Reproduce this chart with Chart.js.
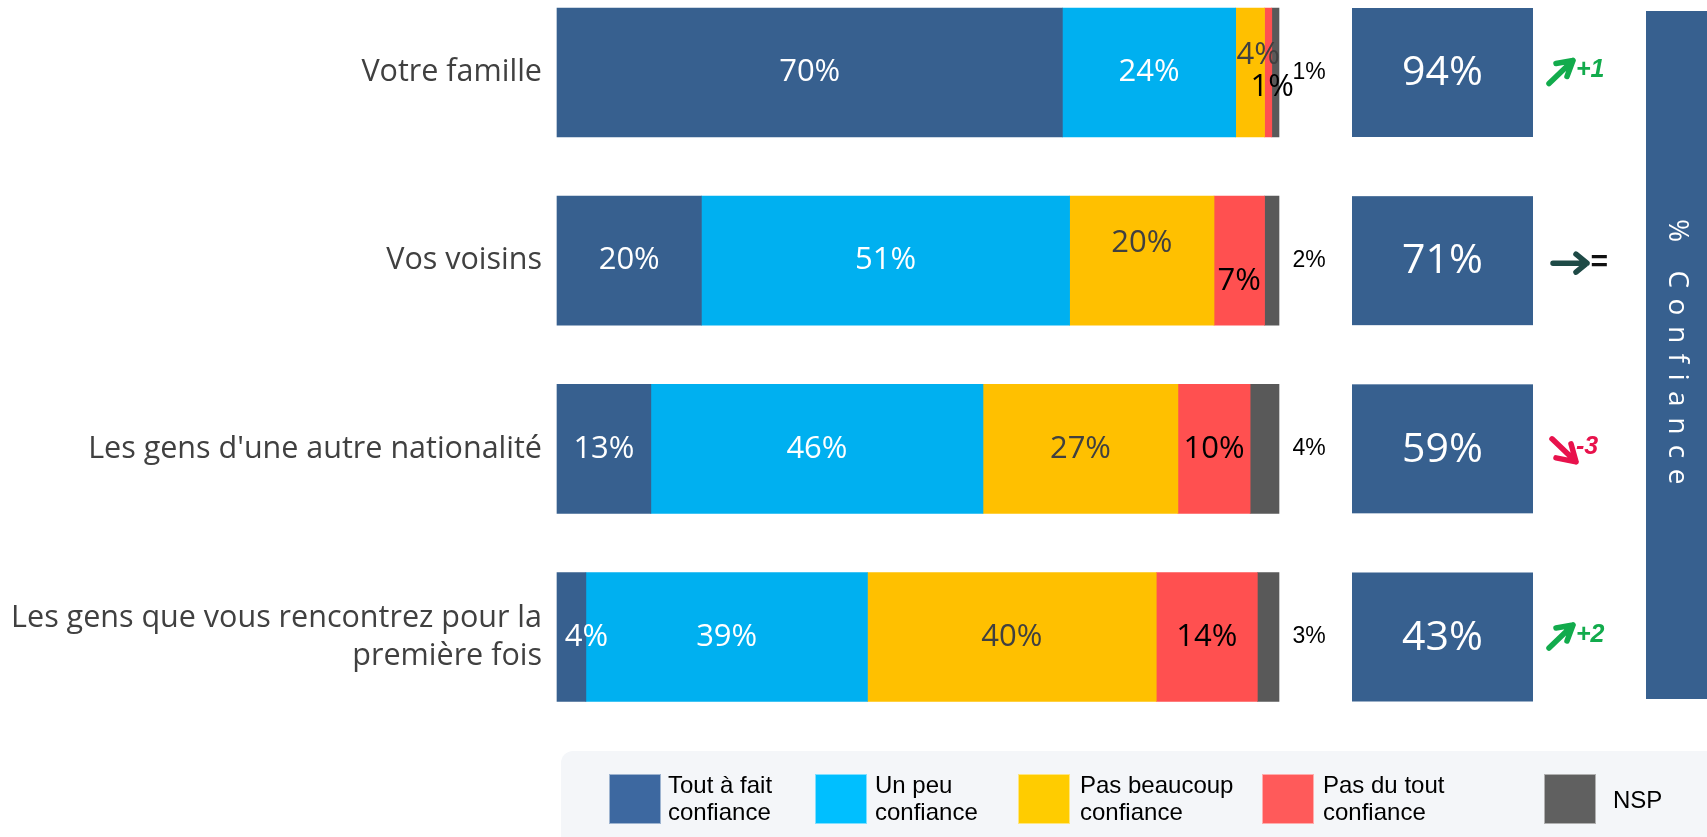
<!DOCTYPE html>
<html>
<head>
<meta charset="utf-8">
<script src="https://cdn.jsdelivr.net/npm/chart.js@4.4.1/dist/chart.umd.min.js"></script>
<style>
  html, body { margin: 0; padding: 0; background: #fff; }
  #wrap { position: relative; width: 1707px; height: 837px; }
</style>
</head>
<body>
<div id="wrap"><canvas id="confianceChart" width="1707" height="837"></canvas></div>
<script>
// Données
const categories = [
  "Votre famille",
  "Vos voisins",
  "Les gens d'une autre nationalité",
  ["Les gens que vous rencontrez pour la", "première fois"],
];
const seriesNames = [
  "Tout à fait confiance",
  "Un peu confiance",
  "Pas beaucoup confiance",
  "Pas du tout confiance",
  "NSP",
];
const toutAFait = [70, 20, 13, 4];
const unPeu = [24, 51, 46, 39];
const pasBeaucoup = [4, 20, 27, 40];
const pasDuTout = [1, 7, 10, 14];
const nsp = [1, 2, 4, 3];
const totalConfiance = [94, 71, 59, 43];
const evolution = ["+1", "=", "-3", "+2"];

// Styles
const barColors = ["#37608f", "#00b0f0", "#ffc000", "#ff5050", "#595959"];
const legendColors = ["#3d68a0", "#00bfff", "#ffcc00", "#ff5a5a", "#606060"];
const labelColors = ["#ffffff", "#ffffff", "#404040", "#000000", "#000000"];
// petits décalages pour les étiquettes des segments étroits  [dx, dy]
const labelNudge = {
  "2,0": [8, -17],
  "3,0": [4, 15],
  "2,1": [0, -17],
  "3,1": [0, 21],
  "0,3": [15, 0],
};
const FONT = "'Open Sans', 'Noto Sans', sans-serif";

function txt(ctx, s, x, y, font, color, align) {
  ctx.font = font;
  ctx.fillStyle = color;
  ctx.textAlign = align || "center";
  ctx.textBaseline = "middle";
  ctx.fillText(s, x, y);
}

function drawArrow(ctx, sign, x, cy, color) {
  ctx.save();
  ctx.strokeStyle = color;
  ctx.lineWidth = 5.5;
  ctx.lineCap = "round";
  ctx.lineJoin = "round";
  ctx.beginPath();
  if (sign > 0) {
    ctx.moveTo(x, cy + 11);
    ctx.lineTo(x + 24, cy - 12);
    ctx.moveTo(x + 7, cy - 9);
    ctx.lineTo(x + 24, cy - 12);
    ctx.lineTo(x + 18, cy + 4);
  } else if (sign < 0) {
    ctx.moveTo(x + 3, cy - 10);
    ctx.lineTo(x + 27, cy + 13);
    ctx.moveTo(x + 22, cy - 5);
    ctx.lineTo(x + 27, cy + 13);
    ctx.lineTo(x + 7, cy + 9);
  } else {
    ctx.moveTo(x + 4, cy + 2.5);
    ctx.lineTo(x + 38, cy + 2.5);
    ctx.moveTo(x + 27, cy - 6.5);
    ctx.lineTo(x + 38, cy + 2.5);
    ctx.lineTo(x + 27, cy + 11.5);
  }
  ctx.stroke();
  ctx.restore();
}

const overlay = {
  id: "overlay",
  afterDatasetsDraw(chart) {
    const ctx = chart.ctx;
    const area = chart.chartArea;

    // étiquettes des segments
    chart.data.datasets.forEach((ds, d) => {
      const meta = chart.getDatasetMeta(d);
      meta.data.forEach((el, i) => {
        const p = el.getProps(["x", "base", "y"], true);
        const label = ds.data[i] + "%";
        if (d === 4) {
          txt(ctx, label, area.right + 30, p.y, "23px 'Liberation Sans', Arial, sans-serif", labelColors[d]);
          return;
        }
        const n = labelNudge[d + "," + i] || [0, 0];
        txt(ctx, label, (p.x + p.base) / 2 + n[0], p.y + n[1], "31px " + FONT, labelColors[d]);
      });
    });

    // cases "% confiance" et évolutions
    const meta0 = chart.getDatasetMeta(0);
    meta0.data.forEach((el, i) => {
      const p = el.getProps(["y", "height"], true);
      ctx.fillStyle = "#37608f";
      ctx.fillRect(1352, p.y - p.height / 2, 181, p.height);
      txt(ctx, totalConfiance[i] + "%", 1442.5, p.y + 1, "41px " + FONT, "#ffffff");

      const ev = evolution[i];
      const sign = ev.startsWith("+") ? 1 : ev.startsWith("-") ? -1 : 0;
      const col = sign > 0 ? "#12ab4c" : sign < 0 ? "#e8124c" : "#1e4a46";
      drawArrow(ctx, sign, 1549, p.y, col);
      const tx = sign === 0 ? 1590 : 1576;
      const ty = sign === 0 ? p.y + 2 : p.y - 2;
      const fs = sign === 0 ? 30 : 25;
      txt(ctx, ev, tx, ty, "italic bold " + fs + "px 'Liberation Sans', Arial, sans-serif", sign === 0 ? "#111" : col, "left");
    });

    // bandeau vertical
    ctx.fillStyle = "#37608f";
    ctx.fillRect(1646, 11, 61, 688);
    ctx.save();
    ctx.translate(1677, 352);
    ctx.rotate(Math.PI / 2);
    ctx.letterSpacing = "10.5px";
    txt(ctx, "% Confiance", 5, 0, "28px " + FONT, "#ffffff");
    ctx.restore();

    // légende
    ctx.save();
    ctx.fillStyle = "#f4f6f9";
    ctx.beginPath();
    ctx.roundRect(561, 751, 1170, 110, 12);
    ctx.fill();
    const swX = [609, 815, 1018, 1262, 1544];
    const txX = [668, 875, 1080, 1323, 1613];
    seriesNames.forEach((name, k) => {
      ctx.fillStyle = legendColors[k];
      ctx.fillRect(swX[k], 774, 52, 50);
      ctx.strokeStyle = "rgba(255,255,255,0.5)";
      ctx.lineWidth = 1;
      ctx.strokeRect(swX[k] + 0.5, 774.5, 51, 49);
      const cut = name.lastIndexOf(" ");
      const f = "24px 'Liberation Sans', Arial, sans-serif";
      if (cut < 0) {
        txt(ctx, name, txX[k], 801, f, "#000", "left");
      } else {
        txt(ctx, name.slice(0, cut), txX[k], 786, f, "#000", "left");
        txt(ctx, name.slice(cut + 1), txX[k], 813, f, "#000", "left");
      }
    });
    ctx.restore();
  },
};

const series = [toutAFait, unPeu, pasBeaucoup, pasDuTout, nsp];

new Chart(document.getElementById("confianceChart"), {
  type: "bar",
  data: {
    labels: categories,
    datasets: series.map((values, k) => ({
      label: seriesNames[k],
      data: values,
      backgroundColor: barColors[k],
      borderWidth: 0,
      barThickness: 129,
      clip: false,
    })),
  },
  options: {
    indexAxis: "y",
    responsive: false,
    animation: false,
    devicePixelRatio: 1,
    layout: { padding: { top: 72.5, bottom: 200, right: 428, left: 0 } },
    plugins: {
      legend: { display: false },
      tooltip: { enabled: false },
    },
    scales: {
      x: {
        stacked: true,
        display: false,
        min: 0,
        max: 100,
      },
      y: {
        stacked: true,
        offset: false,
        grid: { display: false, drawTicks: false },
        border: { display: false },
        ticks: {
          color: "#404040",
          font: { family: "'Open Sans'", size: 30.5, lineHeight: 1.25 },
          padding: 15,
          crossAlign: "near",
          autoSkip: false,
        },
        afterFit(scale) {
          scale.width = 557;
        },
      },
    },
  },
  plugins: [overlay],
});
</script>
</body>
</html>
